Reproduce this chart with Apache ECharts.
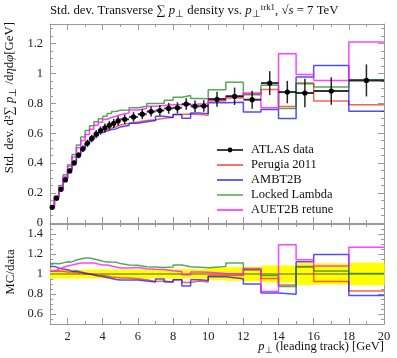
<!DOCTYPE html>
<html><head><meta charset="utf-8">
<script src="https://cdn.jsdelivr.net/npm/echarts@6/dist/echarts.min.js"></script>
<style>html,body{margin:0;padding:0;background:#fff}#c{width:397px;height:358px}</style>
</head><body><div id="c"></div>
<script>
// ---- data ----
const binEdges = [1,1.25,1.5,1.75,2,2.25,2.5,2.75,3,3.25,3.5,3.75,4,4.25,4.5,4.75,5,5.5,6,6.5,7,7.5,8,8.5,9,9.5,10,11,12,13,14,15,16,18,20];
const dataVals = [0.105,0.165,0.225,0.288,0.348,0.401,0.453,0.496,0.533,0.565,0.594,0.618,0.636,0.653,0.666,0.682,0.693,0.709,0.727,0.745,0.752,0.766,0.770,0.795,0.780,0.782,0.827,0.847,0.824,0.935,0.875,0.869,0.882,0.953];
const dataErrs = [0.005,0.007,0.010,0.013,0.016,0.018,0.020,0.022,0.024,0.025,0.027,0.028,0.029,0.029,0.030,0.031,0.031,0.032,0.033,0.034,0.035,0.036,0.037,0.038,0.038,0.039,0.050,0.058,0.060,0.080,0.075,0.095,0.092,0.107];
const perugia2011 = [0.108,0.170,0.231,0.294,0.355,0.407,0.458,0.496,0.533,0.562,0.588,0.609,0.623,0.633,0.643,0.655,0.665,0.675,0.685,0.690,0.700,0.705,0.725,0.728,0.725,0.720,0.815,0.835,0.864,0.893,0.778,0.935,0.816,0.791];
const ambt2b = [0.113,0.175,0.236,0.300,0.358,0.413,0.462,0.501,0.533,0.559,0.582,0.603,0.614,0.624,0.629,0.641,0.651,0.666,0.676,0.685,0.714,0.705,0.725,0.700,0.735,0.731,0.804,0.807,0.742,0.758,0.698,0.976,1.053,0.747];
const lockedLambda = [0.116,0.182,0.250,0.323,0.390,0.457,0.521,0.575,0.618,0.650,0.677,0.697,0.713,0.731,0.745,0.753,0.755,0.771,0.780,0.798,0.800,0.820,0.840,0.852,0.832,0.830,0.890,0.940,0.857,0.920,0.765,0.930,0.909,0.958];
const auet2bRetune = [0.108,0.173,0.240,0.311,0.379,0.441,0.503,0.551,0.592,0.627,0.653,0.674,0.693,0.705,0.713,0.723,0.735,0.755,0.765,0.780,0.785,0.790,0.790,0.790,0.795,0.795,0.831,0.847,0.869,0.771,1.131,0.993,0.953,1.209];
const xTickLabels = [2,4,6,8,10,12,14,16,18,20];
const xMinorTickVals = [1,3,5,7,9,11,13,15,17,19];
const yTopLabels = [0,0.2,0.4,0.6,0.8,1,1.2];
const yRatioLabels = [0.6,0.8,1,1.2,1.4];
const seriesNames = ['ATLAS data','Perugia 2011','AMBT2B','Locked Lambda','AUET2B retune'];

// ---- styles ----
const FONT = 'Liberation Serif';
const FRAME = '#999';
const colors = {
  'Perugia 2011':'rgba(255,40,40,0.75)',
  'AMBT2B':'rgba(20,20,255,0.75)',
  'Locked Lambda':'rgba(30,140,30,0.75)',
  'AUET2B retune':'rgba(255,20,255,0.8)'
};
const mcSets = [['Perugia 2011',perugia2011],['AMBT2B',ambt2b],['Locked Lambda',lockedLambda],['AUET2B retune',auet2bRetune]];

const yTopMinor=[]; for(let k=0;k<=26;k++){ if(k%4!==0) yTopMinor.push(+(k*0.05).toFixed(2)); }
const yRatioMinor=[]; for(let k=10;k<=30;k++){ if(k%4!==0) yRatioMinor.push(+(k*0.05).toFixed(2)); }

function steps(vals){ const p=[]; for(let i=0;i<vals.length;i++){ p.push([binEdges[i],vals[i]]); p.push([binEdges[i+1],vals[i]]); } return p; }

function xAx(grid,pos,ticks,len,line,labels){
  return {type:'value',gridIndex:grid,position:pos,min:1,max:20,
    axisLine:{show:line,onZero:false,lineStyle:{color:FRAME,width:1}},
    axisTick:{show:true,inside:true,length:len,customValues:ticks,lineStyle:{color:FRAME,width:1}},
    axisLabel:{show:!!labels,customValues:labels||ticks,margin:6,fontFamily:FONT,fontSize:12.5,color:'#222'},
    splitLine:{show:false}};
}
function yAx(grid,pos,min,max,ticks,len,line,labels){
  return {type:'value',gridIndex:grid,position:pos,min:min,max:max,
    axisLine:{show:line,onZero:false,lineStyle:{color:FRAME,width:1}},
    axisTick:{show:true,inside:true,length:len,customValues:ticks,lineStyle:{color:FRAME,width:1}},
    axisLabel:{show:!!labels,customValues:labels||ticks,margin:7,fontFamily:FONT,fontSize:12.5,color:'#222'},
    splitLine:{show:false}};
}

const xAxis=[
  xAx(0,'bottom',xTickLabels,6,true,null), xAx(0,'top',xTickLabels,6,true,null),
  xAx(0,'bottom',xMinorTickVals,3,false,null), xAx(0,'top',xMinorTickVals,3,false,null),
  xAx(1,'bottom',xTickLabels,6,true,xTickLabels), xAx(1,'top',xTickLabels,6,true,null),
  xAx(1,'bottom',xMinorTickVals,3,false,null), xAx(1,'top',xMinorTickVals,3,false,null)
];
const yAxis=[
  yAx(0,'left',0,1.33,yTopLabels,6,true,yTopLabels), yAx(0,'right',0,1.33,yTopLabels,6,true,null),
  yAx(0,'left',0,1.33,yTopMinor,3,false,null), yAx(0,'right',0,1.33,yTopMinor,3,false,null),
  yAx(1,'left',0.5,1.5,yRatioLabels,6,true,yRatioLabels), yAx(1,'right',0.5,1.5,yRatioLabels,6,true,null),
  yAx(1,'left',0.5,1.5,yRatioMinor,3,false,null), yAx(1,'right',0.5,1.5,yRatioMinor,3,false,null)
];

const series=[];
// ratio band
const bandData = dataVals.map((v,i)=>[binEdges[i],binEdges[i+1],1,dataErrs[i]/v]);
series.push({type:'custom',xAxisIndex:4,yAxisIndex:4,data:bandData,z:1,silent:true,
  encode:{x:[0,1],y:2},
  renderItem:function(params,api){
    const a=api.coord([api.value(0),1+api.value(3)]);
    const b=api.coord([api.value(1),1-api.value(3)]);
    return {type:'rect',shape:{x:a[0],y:a[1],width:b[0]-a[0]+0.6,height:b[1]-a[1]},style:{fill:'#ffff00'}};
  }});
// data/data line in ratio
series.push({type:'line',xAxisIndex:4,yAxisIndex:4,data:steps(dataVals.map(v=>v/v)),showSymbol:false,z:2,
  lineStyle:{color:'#555',width:1},silent:true});
// MC lines (top and ratio)
mcSets.forEach(([name,vals])=>{
  series.push({name:name,type:'line',xAxisIndex:0,yAxisIndex:0,data:steps(vals),showSymbol:false,z:3,clip:true,
    lineStyle:{color:colors[name],width:1.5},silent:true});
  series.push({name:name,type:'line',xAxisIndex:4,yAxisIndex:4,data:steps(vals.map((v,i)=>v/dataVals[i])),showSymbol:false,z:3,clip:true,
    lineStyle:{color:colors[name],width:1.5},silent:true});
});
// data points
const ptData = dataVals.map((v,i)=>[binEdges[i],binEdges[i+1],(binEdges[i]+binEdges[i+1])/2,v,dataErrs[i]]);
series.push({name:'ATLAS data',type:'custom',xAxisIndex:0,yAxisIndex:0,data:ptData,z:5,silent:true,
  encode:{x:[0,1],y:3},
  renderItem:function(params,api){
    const y=api.value(3), e=api.value(4);
    const l=api.coord([api.value(0),y]), r=api.coord([api.value(1),y]);
    const c=api.coord([api.value(2),y]);
    const t=api.coord([api.value(2),y+e]), b=api.coord([api.value(2),y-e]);
    return {type:'group',children:[
      {type:'line',shape:{x1:l[0],y1:l[1],x2:r[0],y2:r[1]},style:{stroke:'rgba(0,0,0,0.8)',lineWidth:2}},
      {type:'line',shape:{x1:t[0],y1:t[1],x2:b[0],y2:b[1]},style:{stroke:'rgba(0,0,0,0.85)',lineWidth:1.5}},
      {type:'circle',shape:{cx:c[0],cy:c[1],r:2.6},style:{fill:'#000'}}
    ]};
  }});

// legend drawn via graphic
const legendColors = ['#000','rgba(255,40,40,0.75)','rgba(20,20,255,0.75)','rgba(30,140,30,0.65)','rgba(255,20,255,0.8)'];
const graphic=[];
seriesNames.forEach((n,i)=>{
  const y=150+i*15;
  graphic.push({type:'line',shape:{x1:217,y1:y,x2:243,y2:y},style:{stroke:legendColors[i],lineWidth:i===0?1.5:1.8}});
  if(i===0) graphic.push({type:'circle',shape:{cx:230,cy:y,r:2.4},style:{fill:'#000'}});
  graphic.push({type:'text',x:251,y:y,style:{text:n,fontFamily:FONT,fontSize:12.5,fill:'#111',verticalAlign:'middle',align:'left'}});
});
const richBase = (s)=>({
  i:{fontFamily:FONT,fontStyle:'italic',fontSize:s,fill:'#111'},
  sub:{fontFamily:FONT,fontSize:s*0.75,fill:'#111',padding:[s*0.5,0,0,0]},
  sup:{fontFamily:FONT,fontSize:s*0.7,fill:'#111',padding:[0,0,s*0.6,0]}
});
graphic.push({type:'text',x:50,y:11,style:{
  text:'Std. dev. Transverse ∑ {i|p}{sub|⊥} density vs. {i|p}{sub|⊥}{sup|trk1}, √{i|s} = 7 TeV',
  rich:richBase(12.8),fontFamily:FONT,fontSize:12.8,fill:'#111',verticalAlign:'middle',align:'left'}});
graphic.push({type:'text',x:10,y:22,rotation:Math.PI/2,style:{
  text:'Std. dev. d²∑ {i|p}{sub|⊥} /d{i|η}d{i|φ}[GeV]',
  rich:richBase(12.8),fontFamily:FONT,fontSize:12.8,fill:'#111',verticalAlign:'middle',align:'right'}});
graphic.push({type:'text',x:11,y:272,rotation:Math.PI/2,style:{
  text:'MC/data',fontFamily:FONT,fontSize:13,fill:'#111',verticalAlign:'middle',align:'center'}});
graphic.push({type:'text',x:384,y:347,style:{
  text:'{i|p}{sub|⊥} (leading track) [GeV]',
  rich:richBase(12.5),fontFamily:FONT,fontSize:12.5,fill:'#111',verticalAlign:'middle',align:'right'}});

const chart = echarts.init(document.getElementById('c'),null,{renderer:'canvas'});
chart.setOption({
  animation:false,
  backgroundColor:'#fff',
  grid:[{left:50,top:24,width:334,height:199},{left:50,top:224,width:334,height:100}],
  xAxis:xAxis, yAxis:yAxis, series:series, graphic:graphic
});
</script></body></html>
